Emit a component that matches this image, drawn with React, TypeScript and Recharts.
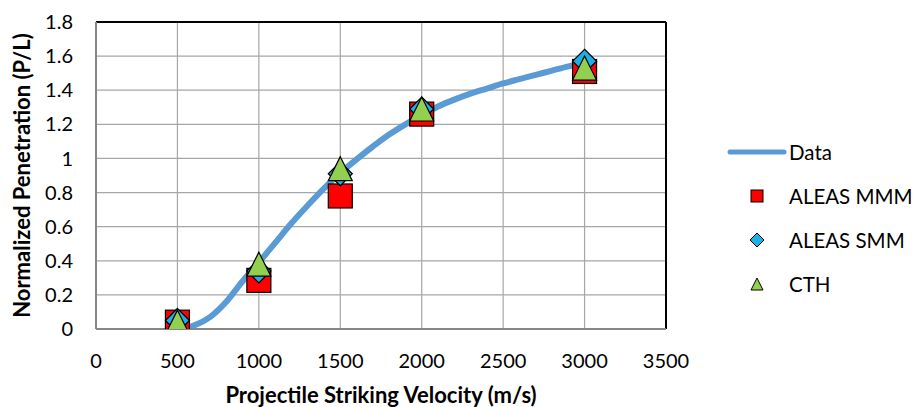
import React from 'react';
import { ComposedChart, Line, Scatter, XAxis, YAxis, CartesianGrid, ReferenceLine, Legend } from 'recharts';

const xTicks = [0, 500, 1000, 1500, 2000, 2500, 3000, 3500];
const yTicks = [0, 0.2, 0.4, 0.6, 0.8, 1, 1.2, 1.4, 1.6, 1.8];

const curveVel = [500, 600, 700, 800, 900, 1000, 1100, 1200, 1300, 1400, 1500, 1600, 1700, 1800, 1900, 2000, 2100, 2200, 2300, 2400, 2500, 2600, 2700, 2800, 2900, 3000];
const curvePen = [0, 0.02, 0.07, 0.16, 0.28, 0.39, 0.505, 0.62, 0.725, 0.825, 0.915, 0.995, 1.07, 1.14, 1.2, 1.255, 1.305, 1.345, 1.38, 1.41, 1.44, 1.465, 1.49, 1.515, 1.54, 1.56];

const simVel = [500, 1000, 1500, 2000, 3000];
const mmmPen = [0.04, 0.285, 0.78, 1.26, 1.51];
const smmPen = [0.05, 0.34, 0.91, 1.29, 1.57];
const cthPen = [0.04, 0.38, 0.94, 1.29, 1.53];

const curveData = curveVel.map((x, i) => ({ x, y: curvePen[i] }));
const mmmData = simVel.map((x, i) => ({ x, y: mmmPen[i] }));
const smmData = simVel.map((x, i) => ({ x, y: smmPen[i] }));
const cthData = simVel.map((x, i) => ({ x, y: cthPen[i] }));

const FONT = 'Lato, "Noto Sans", sans-serif';
const BLUE_LINE = '#5B9BD5';
const RED = '#FF0000';
const CYAN = '#1FAEE8';
const GREEN = '#92D050';

const SquareShape = (p: any) => (
  <rect x={p.cx - 12} y={p.cy - 12} width={24} height={24} fill={RED} stroke="#000" strokeWidth={1.2} />
);
const DiamondShape = (p: any) => (
  <polygon points={`${p.cx},${p.cy - 12} ${p.cx + 12},${p.cy} ${p.cx},${p.cy + 12} ${p.cx - 12},${p.cy}`} fill={CYAN} stroke="#000" strokeWidth={1.2} />
);
const TriangleShape = (p: any) => (
  <polygon points={`${p.cx},${p.cy - 12} ${p.cx + 12},${p.cy + 12} ${p.cx - 12},${p.cy + 12}`} fill={GREEN} stroke="#000" strokeWidth={1.2} />
);

const legendItems = [
  { name: 'Data', kind: 'line' },
  { name: 'ALEAS MMM', kind: 'square' },
  { name: 'ALEAS SMM', kind: 'diamond' },
  { name: 'CTH', kind: 'triangle' },
];

const LegendIcon = ({ kind }: { kind: string }) => (
  <svg width={60} height={20} style={{ display: 'block' }}>
    {kind === 'line' && <line x1={3} y1={10} x2={57} y2={10} stroke={BLUE_LINE} strokeWidth={5} strokeLinecap="round" />}
    {kind === 'square' && <rect x={24} y={4} width={12} height={12} fill={RED} stroke="#000" strokeWidth={1} />}
    {kind === 'diamond' && <polygon points="30,3 37,10 30,17 23,10" fill={CYAN} stroke="#000" strokeWidth={1} />}
    {kind === 'triangle' && <polygon points="30,4 36,16 24,16" fill={GREEN} stroke="#000" strokeWidth={1} />}
  </svg>
);

const renderLegend = () => (
  <div style={{ fontFamily: FONT, fontSize: 20.5, color: '#000' }}>
    {legendItems.map((it) => (
      <div key={it.name} style={{ display: 'flex', alignItems: 'center', height: 44 }}>
        <LegendIcon kind={it.kind} />
        <span style={{ marginLeft: 2, whiteSpace: 'nowrap' }}>{it.name}</span>
      </div>
    ))}
  </div>
);

export default function App() {
  return (
    <div style={{ position: 'absolute', left: 0, top: 0, width: 916, height: 407, background: '#fff' }}>
      <ComposedChart width={916} height={407} margin={{ top: 22, right: 250, bottom: 0, left: 0 }}>
        <CartesianGrid stroke="#A6A6A6" strokeWidth={1.2} />
        <XAxis
          type="number"
          dataKey="x"
          domain={[0, 3500]}
          ticks={xTicks}
          allowDataOverflow
          height={78}
          tickSize={0}
          tickMargin={25}
          axisLine={{ stroke: '#868686', strokeWidth: 2 }}
          tick={{ fill: '#000', fontSize: 20, fontFamily: FONT }}
          label={{ value: 'Projectile Striking Velocity (m/s)', position: 'insideBottom', offset: 4, style: { fill: '#000', fontSize: 22, fontWeight: 700, fontFamily: FONT } }}
        />
        <YAxis
          type="number"
          dataKey="y"
          domain={[0, 1.8]}
          ticks={yTicks}
          allowDataOverflow
          width={96}
          tickSize={0}
          tickMargin={23}
          axisLine={{ stroke: '#868686', strokeWidth: 2 }}
          tick={{ fill: '#000', fontSize: 20, fontFamily: FONT }}
          label={{ value: 'Normalized Penetration (P/L)', angle: -90, position: 'insideLeft', offset: 22, style: { textAnchor: 'middle', fill: '#000', fontSize: 22, fontWeight: 700, fontFamily: FONT } }}
        />
        <ReferenceLine y={1.8} stroke="#000" strokeWidth={2} />
        <ReferenceLine x={3500} stroke="#000" strokeWidth={2} />
        <Line data={curveData} dataKey="y" type="monotone" stroke={BLUE_LINE} strokeWidth={6} dot={false} isAnimationActive={false} name="Data" />
        <Scatter data={mmmData} dataKey="y" shape={SquareShape} isAnimationActive={false} name="ALEAS MMM" />
        <Scatter data={smmData} dataKey="y" shape={DiamondShape} isAnimationActive={false} name="ALEAS SMM" />
        <Scatter data={cthData} dataKey="y" shape={TriangleShape} isAnimationActive={false} name="CTH" />
        <Legend layout="vertical" align="center" verticalAlign="middle" content={renderLegend} wrapperStyle={{ position: 'absolute', left: 727, top: 130, width: 190, margin: 0 }} />
      </ComposedChart>
    </div>
  );
}
